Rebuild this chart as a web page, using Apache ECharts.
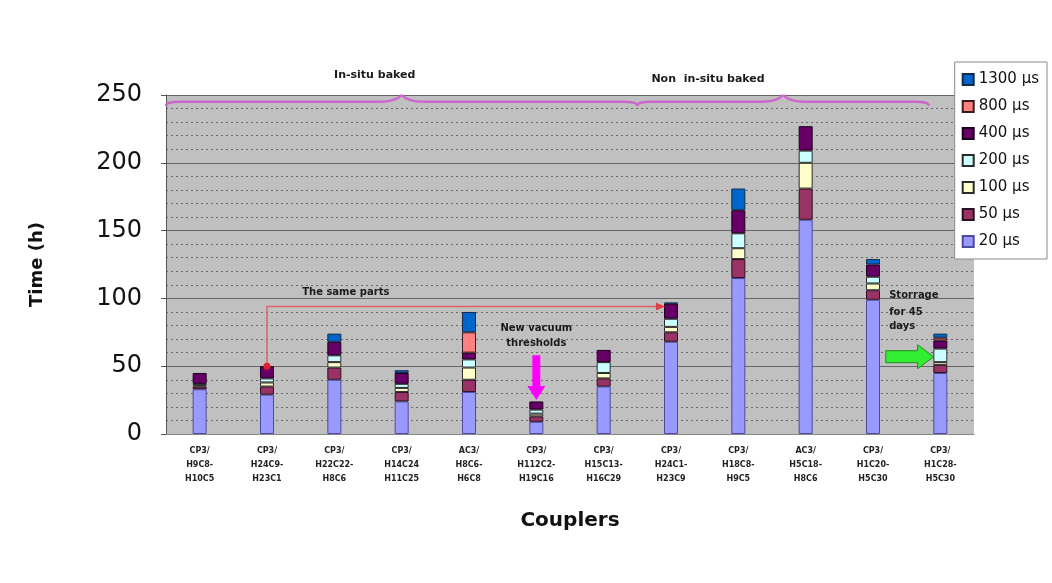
<!DOCTYPE html>
<html>
<head>
<meta charset="utf-8">
<script src="https://cdn.jsdelivr.net/npm/echarts@6/dist/echarts.min.js"></script>
<style>
  html, body { margin: 0; background: #fff; }
  #chart { width: 1052px; height: 583px; }
</style>
</head>
<body>
<div id="chart"></div>
<script>
// couplers on the x axis, one stacked bar each
const categories = [
  "CP3/\nH9C8-\nH10C5", "CP3/\nH24C9-\nH23C1", "CP3/\nH22C22-\nH8C6", "CP3/\nH14C24\nH11C25",
  "AC3/\nH8C6-\nH6C8", "CP3/\nH112C2-\nH19C16", "CP3/\nH15C13-\nH16C29", "CP3/\nH24C1-\nH23C9",
  "CP3/\nH18C8-\nH9C5", "AC3/\nH5C18-\nH8C6", "CP3/\nH1C20-\nH5C30", "CP3/\nH1C28-\nH5C30"
];

// time (h) spent at each pulse length, bottom to top
const t20   = [33, 29, 40, 24, 31, 9, 35, 68, 115, 158, 99, 45];
const t50   = [2, 6, 9, 7, 9, 4, 6, 7, 14, 23, 7, 6];
const t100  = [1, 3, 4, 3, 9, 2, 4, 4, 8, 19, 5, 2];
const t200  = [1, 3, 5, 3, 6, 3, 8, 6, 11, 9, 5, 10];
const t400  = [8, 9, 10, 8, 5, 6, 9, 11, 17, 18, 9, 6];
const t800  = [null, null, null, null, 15, null, null, null, null, null, null, 2];
const t1300 = [null, null, 6, 2, 15, null, null, 1, 16, null, 4, 3];

const yTicks = [0, 50, 100, 150, 200, 250];

const seriesDefs = [
  { name: "20 µs", data: t20, color: "#9999ff", border: "#4b4b9e" },
  { name: "50 µs", data: t50, color: "#993366", border: "#2a1020" },
  { name: "100 µs", data: t100, color: "#ffffcc", border: "#2a2a2a" },
  { name: "200 µs", data: t200, color: "#ccffff", border: "#2a2a2a" },
  { name: "400 µs", data: t400, color: "#660066", border: "#1a001a" },
  { name: "800 µs", data: t800, color: "#ff8080", border: "#3a1a1a" },
  { name: "1300 µs", data: t1300, color: "#0066cc", border: "#102a4a" }
];

const FONT = "DejaVu Sans";
const chart = echarts.init(document.getElementById("chart"));

chart.setOption({
  animation: false,
  backgroundColor: "#fff",
  textStyle: { fontFamily: FONT },
  grid: {
    left: 166, right: 78, top: 95, bottom: 149,
    show: true, backgroundColor: "#c0c0c0", borderWidth: 0
  },
  legend: {
    orient: "vertical",
    right: 5, top: 62,
    backgroundColor: "#fff",
    borderColor: "#8a8a8a", borderWidth: 1,
    padding: [10, 8, 10, 7],
    itemWidth: 11, itemHeight: 11, itemGap: 12,
    icon: "rect",
    textStyle: { fontSize: 15, color: "#111", fontFamily: FONT },
    data: seriesDefs.map((s) => s.name).reverse()
  },
  xAxis: {
    type: "category",
    data: categories,
    name: "Couplers",
    nameLocation: "middle",
    nameGap: 77,
    nameTextStyle: { fontSize: 20, fontWeight: "bold", color: "#111" },
    axisLine: { lineStyle: { color: "#888" } },
    axisTick: { show: false },
    axisLabel: {
      interval: 0, fontSize: 8, fontWeight: "bold", color: "#222",
      lineHeight: 14, margin: 10
    }
  },
  yAxis: {
    type: "value",
    min: yTicks[0], max: yTicks[yTicks.length - 1], interval: 50,
    name: "Time (h)",
    nameLocation: "middle",
    nameGap: 120,
    nameTextStyle: { fontSize: 18, fontWeight: "bold", color: "#111" },
    axisLine: { show: true, lineStyle: { color: "#555" } },
    axisTick: { show: true, length: 5, lineStyle: { color: "#555" } },
    axisLabel: { fontSize: 24, color: "#111", margin: 24 },
    splitLine: { lineStyle: { color: "#666", width: 1 } },
    minorTick: { show: false, splitNumber: 5 },
    minorSplitLine: { show: true, lineStyle: { color: "#6a6a6a", type: [2, 3], width: 1 } }
  },
  series: seriesDefs.map((s) => ({
    name: s.name,
    type: "bar",
    stack: "time",
    barWidth: 14,
    data: s.data,
    itemStyle: { color: s.color, borderColor: s.border, borderWidth: 1 }
  }))
});

// annotations placed from data coordinates
function drawNotes() {
  const p0 = chart.convertToPixel({ xAxisIndex: 0, yAxisIndex: 0 }, [0, 0]);
  const p1 = chart.convertToPixel({ xAxisIndex: 0, yAxisIndex: 0 }, [1, 100]);
  const x = (c) => p0[0] + (p1[0] - p0[0]) * c;
  const y = (v) => p0[1] + (p1[1] - p0[1]) * v / 100;

  const braceStyle = { stroke: "#cc66cc", lineWidth: 2.5, fill: null };
  const curve = (x1, y1, cx, cy, x2, y2) => ({
    type: "bezierCurve", z: 100, shape: { x1, y1, cpx1: cx, cpy1: cy, x2, y2 }, style: braceStyle
  });
  const seg = (x1, y1, x2, y2) => ({ type: "line", z: 100, shape: { x1, y1, x2, y2 }, style: braceStyle });
  const brace = (c0, c1) => {
    const a = x(c0), b = x(c1), m = (a + b) / 2, yb = y(245), yt = y(250);
    return [
      curve(a, yb + 4, a, yb, a + 14, yb),
      seg(a + 14, yb, m - 22, yb),
      curve(m - 22, yb, m - 6, yb, m, yt),
      curve(m, yt, m + 6, yb, m + 22, yb),
      seg(m + 22, yb, b - 14, yb),
      curve(b - 14, yb, b, yb, b, yb + 4)
    ];
  };
  const txt = (t, cx, cy, size, align) => ({
    type: "text", x: cx, y: cy, z: 100,
    style: { text: t, fill: "#1a1a1a", font: `bold ${size}px ${FONT}`, align: align || "center", verticalAlign: "middle" }
  });

  const els = [];
  els.push(...brace(-0.5, 6.5));
  els.push(...brace(6.5, 10.83));
  els.push(txt("In-situ baked", x(2.6), y(265), 11));
  els.push(txt("Non  in-situ baked", x(7.55), y(262), 11));

  // same parts red connector
  const ry = y(94), rx0 = x(1), rx1 = x(6.88);
  els.push({ type: "polyline", z: 100, shape: { points: [[rx0, y(50)], [rx0, ry], [rx1, ry]] },
    style: { stroke: "#e0606a", lineWidth: 1.5, fill: null } });
  els.push({ type: "polygon", z: 100, shape: { points: [[rx1 + 2, ry], [rx1 - 7, ry - 4], [rx1 - 7, ry + 4]] },
    style: { fill: "#e0404a" } });
  els.push({ type: "circle", z: 100, shape: { cx: rx0, cy: y(50), r: 3.5 }, style: { fill: "#e02030" } });
  els.push(txt("The same parts", x(2.17), y(104.5), 10));

  // new vacuum thresholds
  els.push(txt("New vacuum", x(5), y(78), 10));
  els.push(txt("thresholds", x(5), y(67), 10));
  const mx = x(5), mt = y(58), mb = y(25);
  els.push({ type: "polygon", z: 100, shape: { points: [[mx - 4, mt], [mx + 4, mt], [mx + 4, mb - 14], [mx + 9, mb - 14], [mx, mb], [mx - 9, mb - 14], [mx - 4, mb - 14]] },
    style: { fill: "#ff00ff" } });

  // storage
  els.push(txt("Storrage", x(10.24), y(102), 10, "left"));
  els.push(txt("for 45", x(10.24), y(90), 10, "left"));
  els.push(txt("days", x(10.24), y(79), 10, "left"));
  const gl = x(10.19), gr = x(10.9), gy = y(57);
  els.push({ type: "polygon", z: 100, shape: { points: [[gl, gy - 6], [gr - 16, gy - 6], [gr - 16, gy - 12], [gr, gy], [gr - 16, gy + 12], [gr - 16, gy + 6], [gl, gy + 6]] },
    style: { fill: "#33ee33", stroke: "#228822", lineWidth: 1 } });

  chart.setOption({ graphic: els });
}

drawNotes();
</script>
</body>
</html>
